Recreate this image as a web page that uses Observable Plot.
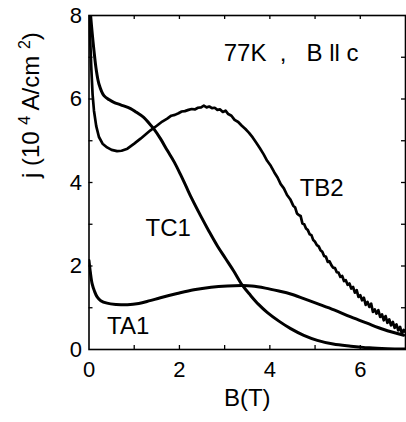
<!DOCTYPE html>
<html>
<head>
<meta charset="utf-8">
<script src="https://cdn.jsdelivr.net/npm/d3@7"></script>
<script src="https://cdn.jsdelivr.net/npm/@observablehq/plot@0.6"></script>
<style>
  html, body { margin: 0; padding: 0; background: #fff; }
  #chart { width: 406px; height: 422px; overflow: hidden; }
  #chart svg { display: block; }
</style>
</head>
<body>
<div id="chart"></div>
<script>
// Critical current density j (10^4 A/cm^2) versus field B (T), 77 K, B || c

// Sample TA1
const ta1B = [0.00, 0.03, 0.07, 0.12, 0.18, 0.26, 0.40, 0.60, 0.85, 1.10, 1.35, 1.58, 1.95, 2.32, 2.70, 3.06, 3.40, 3.60, 3.90, 4.20, 4.46, 4.75, 5.05, 5.42, 5.79, 6.15, 6.52, 6.96];
const ta1J = [2.13, 1.85, 1.57, 1.40, 1.26, 1.17, 1.11, 1.08, 1.07, 1.10, 1.17, 1.24, 1.34, 1.43, 1.49, 1.52, 1.53, 1.52, 1.47, 1.40, 1.33, 1.22, 1.10, 0.95, 0.78, 0.63, 0.48, 0.34];

// Sample TC1
const tc1B = [0.00, 0.04, 0.11, 0.16, 0.22, 0.33, 0.45, 0.55, 0.70, 0.92, 1.05, 1.21, 1.32, 1.43, 1.58, 1.73, 1.88, 2.02, 2.15, 2.28, 2.47, 2.65, 2.84, 3.02, 3.20, 3.39, 3.57, 3.75, 3.94, 4.20, 4.46, 4.75, 5.05, 5.40, 5.79, 6.20, 6.60, 7.00];
const tc1J = [8.60, 7.95, 7.16, 6.70, 6.36, 6.08, 5.98, 5.92, 5.86, 5.77, 5.68, 5.56, 5.43, 5.29, 5.05, 4.77, 4.50, 4.20, 3.90, 3.60, 3.20, 2.84, 2.48, 2.18, 1.88, 1.54, 1.30, 1.08, 0.89, 0.68, 0.50, 0.34, 0.22, 0.13, 0.08, 0.04, 0.02, 0.01];

// Sample TB2 (measured trace, noisy at high field)
const tb2B = [0.00, 0.02, 0.05, 0.08, 0.11, 0.16, 0.22, 0.30, 0.40, 0.50, 0.62, 0.72, 0.85, 1.00, 1.14, 1.25, 1.36, 1.50, 1.62, 1.73,
              1.82, 1.90, 1.98, 2.05, 2.12, 2.20, 2.27, 2.34, 2.41, 2.48, 2.54, 2.60, 2.66, 2.72, 2.78, 2.84, 2.90, 2.96, 3.02, 3.08,
              3.15, 3.22, 3.30, 3.38, 3.46, 3.54, 3.62, 3.70, 3.78, 3.86, 3.94, 4.02, 4.10, 4.17, 4.24, 4.31, 4.38, 4.45, 4.52, 4.56,
              4.60, 4.64, 4.68, 4.72, 4.76, 4.80, 4.84, 4.88, 4.92, 4.96, 5.00, 5.04, 5.08, 5.12, 5.16, 5.20, 5.24, 5.28, 5.32, 5.36,
              5.40, 5.44, 5.48, 5.52, 5.56, 5.60, 5.64, 5.68, 5.72, 5.76, 5.80, 5.84, 5.88, 5.92, 5.96, 6.00, 6.04, 6.08, 6.12, 6.16,
              6.20, 6.24, 6.28, 6.32, 6.36, 6.40, 6.44, 6.48, 6.52, 6.56, 6.60, 6.64, 6.68, 6.72, 6.76, 6.80, 6.84, 6.88, 6.92, 6.96, 7.00];
const tb2J = [8.60, 7.60, 6.76, 6.10, 5.72, 5.35, 5.09, 4.93, 4.84, 4.78, 4.75, 4.76, 4.81, 4.93, 5.05, 5.15, 5.25, 5.36, 5.46, 5.53,
              5.60, 5.62, 5.66, 5.70, 5.71, 5.74, 5.76, 5.75, 5.79, 5.80, 5.84, 5.80, 5.82, 5.78, 5.79, 5.74, 5.75, 5.69, 5.72, 5.64,
              5.60, 5.50, 5.45, 5.36, 5.28, 5.19, 5.08, 4.95, 4.82, 4.68, 4.52, 4.40, 4.24, 4.12, 3.96, 3.86, 3.70, 3.60, 3.44, 3.40,
              3.26, 3.22, 3.20, 3.02, 3.00, 2.90, 2.86, 2.76, 2.74, 2.62, 2.58, 2.50, 2.47, 2.38, 2.34, 2.24, 2.22, 2.10, 2.11, 2.02,
              1.96, 1.95, 1.85, 1.84, 1.74, 1.76, 1.64, 1.66, 1.55, 1.58, 1.46, 1.50, 1.36, 1.42, 1.26, 1.30, 1.18, 1.24, 1.07, 1.14,
              1.02, 1.10, 0.90, 0.96, 0.86, 0.94, 0.78, 0.84, 0.70, 0.80, 0.64, 0.72, 0.58, 0.66, 0.52, 0.60, 0.46, 0.54, 0.38, 0.47, 0.42];

// Axis ticks
const xTickLabels = [0, 2, 4, 6];
const yTickLabels = [0, 2, 4, 6, 8];
const xTicks = [1, 2, 3, 4, 5, 6];
const yTicks = [1, 2, 3, 4, 5, 6, 7];

// Texts
const curveNames = ["TA1", "TC1", "TB2"];
const conditionText = "77K  ,   B ll c";
const xTitle = "B(T)";
const yTitle = "j (10 4 A/cm 2)";
const yTitleParts = ["j (10 ", "4", " A/cm ", "2", ")"];

const toRows = (bs, js) => bs.map((b, i) => ({B: b, j: js[i]}));
const ta1 = toRows(ta1B, ta1J);
const tc1 = toRows(tc1B, tc1J);
const tb2 = toRows(tb2B, tb2J);

// label anchors in data units
const nameAt = [{x: 0.40, y: 0.56}, {x: 1.25, y: 2.90}, {x: 4.66, y: 3.86}];

const FONT = "'Liberation Sans', Arial, Helvetica, sans-serif";
const mT = 15, mB = 73, mL = 88.5, mR = 1;
const innerH = 422 - mT - mB;
const innerW = 406 - mL - mR;
const tickLen = 4;

const plot = Plot.plot({
  width: 406,
  height: 422,
  marginTop: mT,
  marginBottom: mB,
  marginLeft: mL,
  marginRight: mR,
  style: {fontFamily: FONT, background: "#fff", color: "#000", overflow: "visible"},
  x: {domain: [0, 7]},
  y: {domain: [0, 8]},
  marks: [
    Plot.axisX(xTickLabels, {tickSize: 0, tickPadding: 12, fontSize: 22, label: null}),
    Plot.axisY(yTickLabels, {tickSize: 0, tickPadding: 7, fontSize: 22, label: null}),
    // inward ticks on all four sides
    Plot.ruleX(xTicks, {x: d => d, insetTop: innerH - tickLen, strokeWidth: 1.3}),
    Plot.ruleX(xTicks, {x: d => d, insetBottom: innerH - tickLen, strokeWidth: 1.3}),
    Plot.ruleY(yTicks, {y: d => d, insetRight: innerW - tickLen, strokeWidth: 1.3}),
    Plot.ruleY(yTicks, {y: d => d, insetLeft: innerW - tickLen, strokeWidth: 1.3}),
    Plot.line(ta1, {x: "B", y: "j", stroke: "#000", strokeWidth: 3, curve: "catmull-rom", clip: true}),
    Plot.line(tc1, {x: "B", y: "j", stroke: "#000", strokeWidth: 3, curve: "catmull-rom", clip: true}),
    Plot.line(tb2, {x: "B", y: "j", stroke: "#000", strokeWidth: 2.7, curve: "linear", strokeLinejoin: "round", clip: true}),
    Plot.frame({stroke: "#000", strokeWidth: 1.6}),
    Plot.text(curveNames, {x: (d, i) => nameAt[i].x, y: (d, i) => nameAt[i].y, text: d => d, textAnchor: "start", fontSize: 24, fill: "#000"}),
    Plot.text([conditionText], {x: 2.98, y: 7.1, text: d => d, textAnchor: "start", fontSize: 24, fill: "#000"}),
    Plot.text([xTitle], {frameAnchor: "bottom", text: d => d, dy: 56, fontSize: 24, fill: "#000"}),
    Plot.text([yTitle], {frameAnchor: "left", text: d => d, rotate: -90, dx: -58, dy: -4.5, fontSize: 24, fill: "#000"})
  ]
});

// rebuild the y title with raised exponents
d3.select(plot).selectAll("text")
  .filter(function () { return this.textContent === yTitle; })
  .each(function () {
    const t = d3.select(this);
    t.text(null);
    yTitleParts.forEach((s, i) => {
      const ts = t.append("tspan").text(s);
      if (i % 2 === 1) ts.attr("dy", -9).attr("font-size", 16);
      else if (i > 0) ts.attr("dy", 9);
    });
  });

document.getElementById("chart").appendChild(plot);
</script>
</body>
</html>
